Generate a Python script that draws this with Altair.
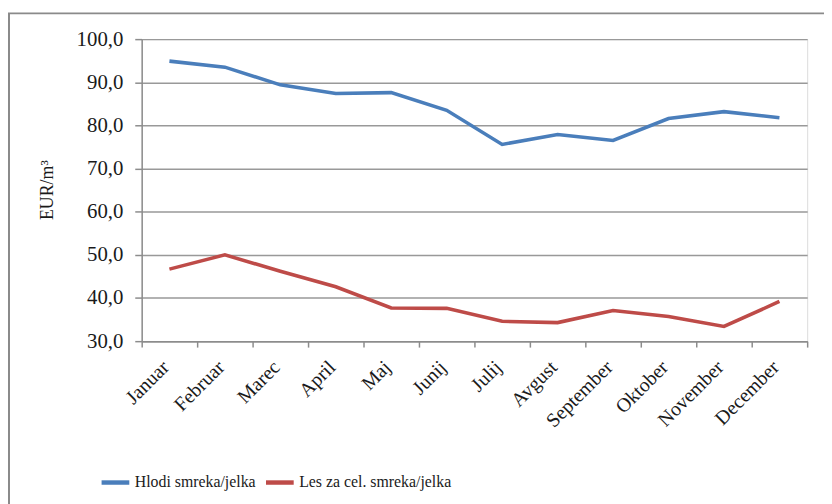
import altair as alt
import pandas as pd

months = ["Januar", "Februar", "Marec", "April", "Maj", "Junij", "Julij",
          "Avgust", "September", "Oktober", "November", "December"]
hlodi = [94.9, 93.5, 89.4, 87.4, 87.6, 83.5, 75.6, 77.9, 76.5, 81.6, 83.2, 81.8]
les = [46.7, 50.0, 46.2, 42.6, 37.7, 37.6, 34.6, 34.3, 37.1, 35.7, 33.4, 39.2]
series = ["Hlodi smreka/jelka", "Les za cel. smreka/jelka"]
colors = ["#4a7ebb", "#be4b48"]
y_ticks = [30, 40, 50, 60, 70, 80, 90, 100]

rows = []
for m, a, b in zip(months, hlodi, les):
    rows.append({"mesec": m, "serija": series[0], "vrednost": a})
    rows.append({"mesec": m, "serija": series[1], "vrednost": b})
df = pd.DataFrame(rows)

FONT = "Liberation Serif"

lines = alt.Chart(df).mark_line(strokeWidth=3.6).encode(
    x=alt.X("mesec:N", sort=months, bandPosition=0.5,
            scale=alt.Scale(type="band", paddingInner=0, paddingOuter=0),
            axis=alt.Axis(title=None, labelAngle=-45, labelAlign="right",
                          labelBaseline="middle", labelPadding=17, labelOffset=-4,
                          tickBand="extent", ticks=True, tickSize=6,
                          tickColor="#8c8c8c", tickWidth=1.5,
                          domainColor="#8c8c8c", domainWidth=1.5,
                          grid=False, labelFont=FONT, labelFontSize=20,
                          labelColor="#1a1a1a")),
    y=alt.Y("vrednost:Q",
            scale=alt.Scale(domain=[30, 100], nice=False, zero=False),
            axis=alt.Axis(title="EUR/m³", values=y_ticks,
                          labelExpr="replace(format(datum.value, '.1f'), '.', ',')",
                          grid=True, gridColor="#999999", gridWidth=1.5,
                          tickSize=7, tickColor="#8c8c8c", tickWidth=1.5,
                          domainColor="#8c8c8c", domainWidth=1.5,
                          labelPadding=12, labelFont=FONT, labelFontSize=21,
                          labelColor="#1a1a1a",
                          titleFont=FONT, titleFontSize=18, titleFontWeight="normal",
                          titleColor="#1a1a1a", titleX=-95, titleY=152,
                          titleAngle=270, titleAlign="center", titleBaseline="middle")),
    color=alt.Color("serija:N",
                    scale=alt.Scale(domain=series, range=colors),
                    legend=alt.Legend(title=None, orient="none", direction="horizontal",
                                      legendX=-43, legendY=431,
                                      symbolType="stroke", symbolSize=784,
                                      symbolStrokeWidth=4.5, labelOffset=3,
                                      columnPadding=0,
                                      labelFont=FONT, labelFontSize=16,
                                      labelColor="#1a1a1a")),
)

frame = alt.Chart(pd.DataFrame({"k": [0]})).mark_rect(
    filled=False, stroke="#8a8a8a", strokeWidth=2
).encode(
    x=alt.value(-134), x2=alt.value(720), y=alt.value(-26), y2=alt.value(480)
)

chart = alt.layer(frame, lines).properties(
    width=672, height=305,
    autosize=alt.AutoSizeParams(type="none"),
    padding={"left": 135, "top": 29, "right": 17, "bottom": 162},
).configure_view(stroke=None).configure(background="white")

chart.save("out.html", embed_options={"renderer": "svg", "actions": False})
